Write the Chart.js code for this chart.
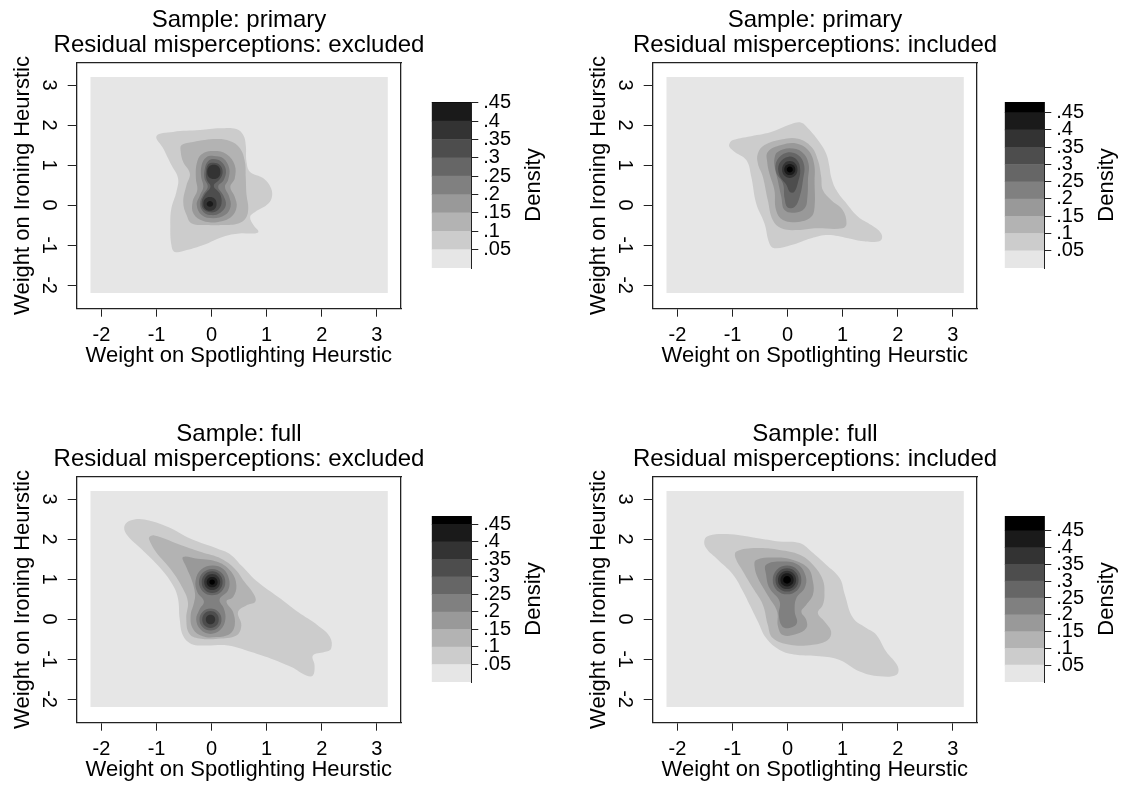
<!DOCTYPE html>
<html lang="en">
<head>
<meta charset="UTF-8">
<title>Density of heuristic weights</title>
<script src="https://cdn.jsdelivr.net/npm/chart.js@4.4.1/dist/chart.umd.min.js"></script>
<style>
    body { margin: 0; background: #fff; overflow: hidden; }
    #page { position: relative; width: 1123px; height: 785px; background: #fff; overflow: hidden; }
    #page canvas { position: absolute; }
</style>
</head>
<body>
<div id="page"></div>
<script>
const FONT = "'Liberation Sans', Arial, Helvetica, sans-serif";

// axes
const xTicks = [-2, -1, 0, 1, 2, 3];
const xTickLabels = ['-2', '-1', '0', '1', '2', '3'];
const yTicks = [-2, -1, 0, 1, 2, 3];
const yTickLabels = ['-2', '-1', '0', '1', '2', '3'];
const densityTicks = [0.05, 0.1, 0.15, 0.2, 0.25, 0.3, 0.35, 0.4, 0.45];
const densityLabels = ['.05', '.1', '.15', '.2', '.25', '.3', '.35', '.4', '.45'];

// contour cut points and band shades (band k = cuts[k]..cuts[k+1])
const cuts = [0, 0.05, 0.1, 0.15, 0.2, 0.25, 0.3, 0.35, 0.4, 0.45, 0.5];
const bandColors = ['#e6e6e6', '#cccccc', '#b3b3b3', '#999999', '#808080',
                    '#666666', '#4d4d4d', '#333333', '#1a1a1a', '#000000'];
const gridExtent = [-2.2, 3.2];

const panelTitles = [
    ['Sample: primary', 'Residual misperceptions: excluded'],
    ['Sample: primary', 'Residual misperceptions: included'],
    ['Sample: full', 'Residual misperceptions: excluded'],
    ['Sample: full', 'Residual misperceptions: included']
];
const densityMax = [0.452, 0.481, 0.474, 0.494];

// contour polygons, [band, [[x, y], ...]]
const contoursPrimaryExcl = [
    [1, [[-1.0,1.73],[-0.70,1.83],[-0.21,1.875],[0.15,1.92],[0.45,1.90],[0.575,1.75],[0.62,1.5],[0.635,1.08],[0.70,0.83],[0.94,0.67],[1.08,0.42],[1.09,0.17],[1.0,0.0],[0.79,-0.17],[0.70,-0.29],[0.76,-0.5],[0.85,-0.67],[0.73,-0.71],[0.51,-0.71],[0.21,-0.79],[-0.15,-1.0],[-0.45,-1.125],[-0.67,-1.17],[-0.73,-1.0],[-0.75,-0.5],[-0.73,-0.08],[-0.64,0.33],[-0.61,0.67],[-0.73,1.0],[-0.88,1.42]]],
    [2, [[-0.545,1.5],[-0.335,1.58],[0.09,1.65],[0.33,1.6],[0.515,1.42],[0.605,1.08],[0.62,0.71],[0.635,0.25],[0.666,-0.08],[0.62,-0.33],[0.485,-0.46],[0.21,-0.5],[-0.09,-0.5],[-0.36,-0.46],[-0.455,-0.25],[-0.515,0.08],[-0.455,0.5],[-0.395,0.79],[-0.515,1.08],[-0.56,1.33]]],
    [3, [[0.04,1.35],[0.273,1.27],[0.42,1.0],[0.42,0.667],[0.34,0.458],[0.42,0.208],[0.455,-0.042],[0.36,-0.29],[0.12,-0.42],[-0.15,-0.40],[-0.33,-0.21],[-0.345,0.083],[-0.26,0.375],[-0.285,0.667],[-0.27,1.04],[-0.18,1.27]]],
    [4, [[0.04,1.23],[0.21,1.17],[0.32,0.92],[0.30,0.625],[0.243,0.458],[0.32,0.208],[0.345,-0.04],[0.243,-0.25],[0.03,-0.33],[-0.18,-0.25],[-0.27,0.0],[-0.21,0.25],[-0.15,0.458],[-0.19,0.71],[-0.18,1.0],[-0.10,1.19]]],
    [5, [[0.04,1.15],[0.18,1.08],[0.26,0.875],[0.22,0.625],[0.12,0.46],[0.21,0.25],[0.26,0.0],[0.16,-0.19],[0.0,-0.25],[-0.15,-0.17],[-0.21,0.04],[-0.15,0.27],[-0.07,0.46],[-0.13,0.67],[-0.12,0.93],[-0.06,1.1]]],
    [6, [[0.04,1.06],[0.15,1.0],[0.2,0.83],[0.15,0.65],[0.04,0.48],[0.15,0.29],[0.18,0.04],[0.10,-0.14],[-0.03,-0.18],[-0.15,-0.10],[-0.18,0.08],[-0.12,0.27],[-0.02,0.46],[-0.09,0.64],[-0.10,0.85],[-0.06,1.02]]],
    [7, [[0.04,1.01],[0.13,0.96],[0.16,0.83],[0.13,0.70],[0.04,0.65],[-0.05,0.70],[-0.08,0.83],[-0.05,0.96]]],
    [7, [[-0.03,0.2],[0.06,0.15],[0.09,0.03],[0.06,-0.09],[-0.03,-0.14],[-0.12,-0.09],[-0.15,0.03],[-0.12,0.15]]],
    [8, [[-0.03,0.1],[0.01,0.08],[0.03,0.03],[0.01,-0.02],[-0.03,-0.04],[-0.07,-0.02],[-0.09,0.03],[-0.07,0.08]]]
];

const contoursPrimaryIncl = [
    [1, [[-1.055,1.54],[-0.99,1.625],[-0.72,1.71],[-0.30,1.83],[0.07,2.03],[0.25,2.06],[0.37,1.92],[0.55,1.625],[0.70,1.29],[0.76,0.96],[0.79,0.71],[0.885,0.375],[1.07,0.04],[1.28,-0.29],[1.52,-0.5],[1.70,-0.71],[1.70,-0.875],[1.58,-0.92],[1.34,-0.90],[1.10,-0.83],[0.73,-0.75],[0.43,-0.83],[0.07,-1.0],[-0.24,-1.08],[-0.33,-0.96],[-0.42,-0.46],[-0.57,0.04],[-0.66,0.71],[-0.75,1.125],[-0.96,1.33],[-1.055,1.45]]],
    [2, [[-0.54,1.29],[-0.42,1.5],[-0.115,1.64],[0.19,1.66],[0.43,1.46],[0.55,1.125],[0.61,0.71],[0.64,0.375],[0.79,0.125],[1.0,-0.125],[1.07,-0.46],[1.0,-0.58],[0.49,-0.58],[0.19,-0.625],[-0.115,-0.58],[-0.27,-0.375],[-0.36,0.125],[-0.45,0.71],[-0.54,1.04]]],
    [3, [[-0.36,1.33],[-0.115,1.5],[0.16,1.54],[0.37,1.375],[0.48,1.04],[0.49,0.54],[0.49,-0.04],[0.43,-0.29],[0.19,-0.42],[-0.085,-0.375],[-0.21,-0.125],[-0.24,0.375],[-0.33,0.79],[-0.37,1.08]]],
    [4, [[-0.18,1.33],[0.036,1.42],[0.26,1.33],[0.38,1.04],[0.37,0.625],[0.36,0.21],[0.31,-0.08],[0.13,-0.19],[-0.055,-0.125],[-0.115,0.21],[-0.18,0.625],[-0.24,1.0],[-0.23,1.22]]],
    [5, [[-0.02,1.31],[0.19,1.25],[0.3,1.0],[0.28,0.625],[0.22,0.21],[0.13,-0.04],[0.0,-0.06],[-0.055,0.17],[-0.085,0.54],[-0.21,0.83],[-0.19,1.125]]],
    [6, [[0.02,1.21],[0.17,1.125],[0.23,0.875],[0.19,0.58],[0.12,0.33],[0.04,0.33],[-0.02,0.5],[-0.15,0.75],[-0.15,1.04]]],
    [7, [[0.04,1.1],[0.139,1.039],[0.18,0.89],[0.139,0.741],[0.04,0.68],[-0.059,0.741],[-0.1,0.89],[-0.059,1.039]]],
    [8, [[0.04,1.03],[0.111,0.99],[0.14,0.89],[0.111,0.79],[0.04,0.75],[-0.031,0.79],[-0.06,0.89],[-0.031,0.99]]],
    [9, [[0.04,0.965],[0.079,0.943],[0.095,0.89],[0.079,0.837],[0.04,0.815],[0.001,0.837],[-0.015,0.89],[0.001,0.943]]]
];

const contoursFullExcl = [
    [1, [[-1.58,2.34],[-1.46,2.47],[-1.22,2.49],[-0.79,2.3],[-0.37,2.0],[0.11,1.76],[0.33,1.63],[0.54,1.34],[0.84,0.925],[1.21,0.55],[1.57,0.175],[1.93,-0.16],[2.15,-0.45],[2.17,-0.74],[2.05,-0.825],[1.84,-0.91],[1.87,-1.16],[1.84,-1.41],[1.72,-1.41],[1.45,-1.2],[1.08,-0.99],[0.72,-0.825],[0.30,-0.66],[-0.13,-0.66],[-0.37,-0.62],[-0.52,-0.41],[-0.58,0.01],[-0.61,0.51],[-0.70,0.84],[-0.92,1.26],[-1.28,1.76],[-1.55,2.13]]],
    [2, [[-1.13,2.05],[-1.04,2.09],[-0.61,1.88],[-0.19,1.675],[0.175,1.51],[0.42,1.26],[0.6,0.925],[0.78,0.59],[0.79,0.425],[0.63,0.34],[0.48,0.175],[0.54,-0.16],[0.45,-0.41],[0.115,-0.49],[-0.19,-0.49],[-0.4,-0.37],[-0.46,0.01],[-0.43,0.425],[-0.52,0.76],[-0.73,1.22],[-1.01,1.675],[-1.13,1.97]]],
    [3, [[-0.52,1.55],[-0.25,1.51],[0.115,1.425],[0.36,1.175],[0.45,0.84],[0.39,0.55],[0.27,0.44],[0.39,0.175],[0.42,-0.16],[0.33,-0.37],[0.08,-0.45],[-0.16,-0.43],[-0.34,-0.24],[-0.38,0.09],[-0.32,0.41],[-0.3,0.63],[-0.36,0.97],[-0.46,1.3]]],
    [4, [[0.01,1.34],[0.205,1.26],[0.315,1.01],[0.30,0.72],[0.145,0.49],[0.224,0.26],[0.25,-0.01],[0.164,-0.26],[-0.02,-0.37],[-0.2,-0.26],[-0.28,-0.01],[-0.22,0.24],[-0.14,0.44],[-0.26,0.675],[-0.29,0.97],[-0.19,1.24]]],
    [5, [[0.01,1.255],[0.18,1.159],[0.25,0.925],[0.18,0.691],[0.01,0.595],[-0.16,0.691],[-0.23,0.925],[-0.16,1.159]]],
    [6, [[0.01,1.195],[0.145,1.115],[0.2,0.925],[0.145,0.735],[0.01,0.655],[-0.125,0.735],[-0.18,0.925],[-0.125,1.115]]],
    [7, [[0.01,1.125],[0.113,1.067],[0.155,0.925],[0.113,0.783],[0.01,0.725],[-0.093,0.783],[-0.135,0.925],[-0.093,1.067]]],
    [8, [[0.01,1.055],[0.081,1.017],[0.11,0.925],[0.081,0.833],[0.01,0.795],[-0.061,0.833],[-0.09,0.925],[-0.061,1.017]]],
    [9, [[0.01,0.99],[0.046,0.971],[0.06,0.925],[0.046,0.879],[0.01,0.86],[-0.026,0.879],[-0.04,0.925],[-0.026,0.971]]],
    [5, [[-0.02,0.265],[0.122,0.185],[0.18,-0.01],[0.122,-0.205],[-0.02,-0.285],[-0.162,-0.205],[-0.22,-0.01],[-0.162,0.185]]],
    [6, [[-0.02,0.2],[0.087,0.139],[0.13,-0.01],[0.087,-0.159],[-0.02,-0.22],[-0.127,-0.159],[-0.17,-0.01],[-0.127,0.139]]],
    [7, [[-0.02,0.11],[0.04,0.075],[0.065,-0.01],[0.04,-0.095],[-0.02,-0.13],[-0.08,-0.095],[-0.105,-0.01],[-0.08,0.075]]]
];

const contoursFullIncl = [
    [1, [[-1.51,1.98],[-1.42,2.09],[-1.11,2.125],[-0.57,2.03],[-0.145,1.94],[0.22,1.9],[0.43,1.69],[0.70,1.36],[0.945,1.025],[1.04,0.61],[1.19,0.025],[1.43,-0.225],[1.61,-0.39],[1.79,-0.81],[2.0,-1.18],[1.98,-1.39],[1.67,-1.43],[1.31,-1.31],[0.945,-1.02],[0.58,-0.93],[0.16,-0.89],[-0.145,-0.77],[-0.39,-0.475],[-0.54,-0.06],[-0.69,0.36],[-0.81,0.69],[-0.99,1.11],[-1.30,1.525],[-1.48,1.775]]],
    [2, [[-0.93,1.69],[-0.57,1.775],[-0.145,1.73],[0.22,1.61],[0.46,1.36],[0.64,0.98],[0.67,0.61],[0.64,0.36],[0.55,0.15],[0.67,-0.06],[0.79,-0.31],[0.73,-0.52],[0.46,-0.64],[0.04,-0.64],[-0.27,-0.475],[-0.36,-0.14],[-0.45,0.36],[-0.63,0.775],[-0.81,1.19],[-0.945,1.525]]],
    [3, [[-0.57,1.48],[-0.205,1.54],[0.1,1.48],[0.37,1.275],[0.46,0.94],[0.46,0.61],[0.34,0.36],[0.25,0.19],[0.34,-0.02],[0.34,-0.225],[0.16,-0.375],[-0.085,-0.4],[-0.175,-0.18],[-0.19,0.19],[-0.33,0.525],[-0.54,1.025],[-0.6,1.32]]],
    [4, [[-0.39,1.36],[-0.085,1.44],[0.19,1.36],[0.33,1.07],[0.31,0.775],[0.16,0.525],[0.13,0.19],[0.17,-0.1],[0.036,-0.225],[-0.1,-0.18],[-0.16,0.11],[-0.145,0.44],[-0.33,0.775],[-0.39,1.11]]],
    [5, [[-0.01,1.34],[0.175,1.236],[0.25,0.98],[0.175,0.724],[-0.01,0.62],[-0.195,0.724],[-0.27,0.98],[-0.195,1.236]]],
    [6, [[-0.01,1.27],[0.139,1.186],[0.2,0.98],[0.139,0.774],[-0.01,0.69],[-0.159,0.774],[-0.22,0.98],[-0.159,1.186]]],
    [7, [[-0.01,1.21],[0.107,1.143],[0.155,0.98],[0.107,0.817],[-0.01,0.75],[-0.127,0.817],[-0.175,0.98],[-0.127,1.143]]],
    [8, [[-0.01,1.145],[0.075,1.097],[0.11,0.98],[0.075,0.863],[-0.01,0.815],[-0.095,0.863],[-0.13,0.98],[-0.095,1.097]]],
    [9, [[-0.01,1.075],[0.04,1.047],[0.06,0.98],[0.04,0.913],[-0.01,0.885],[-0.06,0.913],[-0.08,0.98],[-0.06,1.047]]]
];

const allContours = [contoursPrimaryExcl, contoursPrimaryIncl, contoursFullExcl, contoursFullIncl];

// page layout (px)
const panelPos = [[0, 0], [576, 0], [0, 414], [576, 414]];
const keyPos = [[425, 85], [998, 85], [425, 499], [998, 499]];

Chart.defaults.font.family = FONT;
Chart.defaults.color = '#000';
Chart.defaults.animation = false;

const AXIS = '#222';

function addCanvas(left, top, w, h) {
    var c = document.createElement('canvas');
    c.width = w;
    c.height = h;
    c.style.left = left + 'px';
    c.style.top = top + 'px';
    c.style.width = w + 'px';
    c.style.height = h + 'px';
    document.getElementById('page').appendChild(c);
    return c;
}

// contour lines are closed curves
const closeShapes = {
    id: 'closeShapes',
    afterDatasetUpdate: function(chart, args) {
        var line = args.meta.dataset;
        if (line) {
            line._loop = true;
            line._fullLoop = true;
        }
    }
};

// top and right sides of the plot box; the right one also holds the
// empty space that lets the title centre on the plot region
function frameAxis(pos, size) {
    return {
        type: 'linear',
        position: pos,
        ticks: { display: false },
        grid: { display: false },
        border: { display: true, color: AXIS, width: 1.3 },
        afterFit: function(s) {
            if (pos === 'top') s.height = size; else s.width = size;
        }
    };
}

function drawPanel(i) {
    var canvas = addCanvas(panelPos[i][0], panelPos[i][1], 478, 380);
    var lo = gridExtent[0], hi = gridExtent[1];
    var layers = [[0, [[lo, lo], [hi, lo], [hi, hi], [lo, hi]]]].concat(allContours[i]);

    var datasets = layers.map(function(layer, k) {
        return {
            data: layer[1].map(function(p) { return { x: p[0], y: p[1] }; }),
            backgroundColor: bandColors[layer[0]],
            borderWidth: 0,
            pointRadius: 0,
            showLine: true,
            spanGaps: true,
            fill: 'shape',
            tension: layer[0] === 0 ? 0 : 0.4,
            order: layers.length - k
        };
    });

    new Chart(canvas, {
        type: 'scatter',
        data: { datasets: datasets },
        plugins: [closeShapes],
        options: {
            responsive: false,
            devicePixelRatio: 1,
            events: [],
            layout: { padding: 0 },
            plugins: {
                legend: { display: false },
                tooltip: { enabled: false },
                title: {
                    display: true,
                    text: panelTitles[i],
                    color: '#000',
                    font: { size: 24, weight: 'normal', lineHeight: 1.05 },
                    padding: { top: 7.4, bottom: 4.9 }
                }
            },
            scales: {
                x: {
                    type: 'linear',
                    min: -2.45,
                    max: 3.44,
                    afterBuildTicks: function(s) { s.ticks = xTicks.map(function(v) { return { value: v }; }); },
                    ticks: {
                        callback: function(v, idx) { return xTickLabels[idx]; },
                        font: { size: 20 },
                        padding: 7.1,
                        maxRotation: 0,
                        autoSkip: false
                    },
                    grid: { drawOnChartArea: false, tickLength: 8.4, tickColor: AXIS, tickWidth: 1 },
                    border: { color: AXIS, width: 1.3 },
                    title: {
                        display: true,
                        text: 'Weight on Spotlighting Heurstic',
                        font: { size: 22 },
                        padding: { top: 0, bottom: 10.5 }
                    },
                    afterFit: function(s) { s.height = 71.7; }
                },
                y: {
                    type: 'linear',
                    min: -2.58,
                    max: 3.56,
                    afterBuildTicks: function(s) { s.ticks = yTicks.map(function(v) { return { value: v }; }); },
                    ticks: {
                        callback: function(v, idx) { return yTickLabels[idx]; },
                        font: { size: 20 },
                        padding: 10.5,
                        minRotation: -90,
                        maxRotation: -90,
                        crossAlign: 'center',
                        autoSkip: false
                    },
                    grid: { drawOnChartArea: false, tickLength: 9, tickColor: AXIS, tickWidth: 1 },
                    border: { color: AXIS, width: 1.3 },
                    title: {
                        display: true,
                        text: 'Weight on Ironing Heurstic',
                        font: { size: 22 },
                        padding: { top: 10.1, bottom: 0 }
                    },
                    afterFit: function(s) { s.width = 76.7; }
                },
                x2: frameAxis('top', 0),
                y2: frameAxis('right', 77)
            }
        }
    });
}

const densityTitle = {
    id: 'densityTitle',
    afterDraw: function(chart) {
        var ctx = chart.ctx, area = chart.chartArea;
        ctx.save();
        ctx.translate(chart.width - 16.5, (area.top + area.bottom) / 2);
        ctx.rotate(-Math.PI / 2);
        ctx.font = '22px ' + FONT;
        ctx.fillStyle = '#000';
        ctx.textAlign = 'center';
        ctx.textBaseline = 'middle';
        ctx.fillText('Density', 0, 0);
        ctx.restore();
    }
};

function drawKey(i) {
    var canvas = addCanvas(keyPos[i][0], keyPos[i][1], 125, 200);
    var zMax = densityMax[i];
    var datasets = [];
    for (var k = 0; k < bandColors.length; k++) {
        if (cuts[k] >= zMax) break;
        datasets.push({
            data: [[cuts[k], Math.min(cuts[k + 1], zMax)]],
            backgroundColor: bandColors[k],
            borderWidth: 0,
            barPercentage: 1,
            categoryPercentage: 1,
            grouped: false
        });
    }

    new Chart(canvas, {
        type: 'bar',
        data: { labels: ['Density'], datasets: datasets },
        plugins: [densityTitle],
        options: {
            responsive: false,
            devicePixelRatio: 1,
            events: [],
            layout: { padding: { left: 6.7, top: 7.3, bottom: 7.3, right: 0 } },
            plugins: { legend: { display: false }, tooltip: { enabled: false } },
            scales: {
                x: { display: false },
                y: {
                    position: 'right',
                    min: 0,
                    max: zMax,
                    afterBuildTicks: function(s) { s.ticks = densityTicks.map(function(v) { return { value: v }; }); },
                    ticks: {
                        callback: function(v, idx) { return densityLabels[idx]; },
                        font: { size: 20 },
                        padding: 5,
                        autoSkip: false
                    },
                    grid: { drawOnChartArea: false, tickLength: 7.3, tickColor: AXIS, tickWidth: 1 },
                    border: { display: true, color: AXIS, width: 1 },
                    afterFit: function(s) { s.width = 79; }
                }
            }
        }
    });
}

for (var p = 0; p < 4; p++) {
    drawPanel(p);
    drawKey(p);
}
</script>
</body>
</html>
